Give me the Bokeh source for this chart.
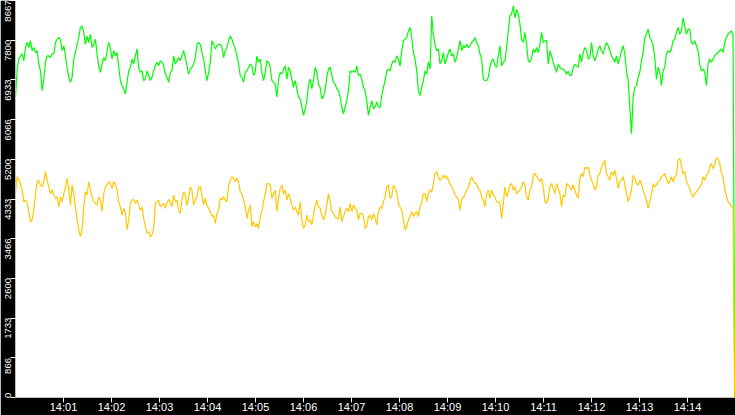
import pandas as pd
from bokeh.plotting import figure
from bokeh.models import Range1d, FixedTicker, DatetimeTickFormatter, LinearAxis
from bokeh.embed import file_html
from bokeh.resources import INLINE

DAY = "2024-01-01 "
START_TIME = "14:00:00"
END_TIME = "14:14:59"
RANGE_END = "14:15:00"

x_tick_labels = ["14:01", "14:02", "14:03", "14:04", "14:05", "14:06", "14:07",
                 "14:08", "14:09", "14:10", "14:11", "14:12", "14:13", "14:14"]
y_tick_values = [0, 866, 1733, 2600, 3466, 4333, 5200, 6066, 6933, 7800, 8667]
y_tick_labels = ["0", "866", "1733", "2600", "3466", "4333", "5200", "6066",
                 "6933", "7800", "8667"]
y_max = 8667

green_a = [
    6560, 7170, 7390, 7460, 7500, 7350, 7640, 7750, 7640, 7790,
    7570, 7640, 7530, 7570, 7280, 7130, 6700, 6950, 7320, 7460,
    7460, 7420, 7500, 7500, 7750, 7820, 7860, 7820, 7570, 7680,
    7460, 7210, 6990, 6880, 6990, 7390, 7530, 7710, 7860, 8080,
    8110, 7970, 7710, 7890, 7750, 7930, 7640, 7710, 7820, 7500,
    7240, 7100, 7280, 7420, 7350, 7570, 7750, 7610, 7390, 7570,
    7460, 7530, 7210, 6920, 6810, 6740, 6630, 6880, 7130, 7210,
    7390, 7280, 7460, 7610, 7210, 7100, 7130, 6920, 6950, 7130,
    7030, 6920, 6990, 7130, 7240, 7320, 7240, 7350, 7320, 7240,
    7060, 6990, 6880, 7100, 7130, 7460, 7280, 7350, 7420, 7350,
    7460, 7570, 7420, 7240, 7060, 7170, 7210, 7280, 7420, 7710,
    7750, 7710, 7530, 7390, 7130, 6920, 7100, 7320, 7790, 7710,
    7610, 7680, 7710, 7710, 7640, 7420, 7570, 7640, 7790, 7890,
    7820, 7710, 7610, 7460, 7280, 7030, 6990, 6880, 7100, 7130,
    7210, 7280,
]
green_b = [
    7240, 7030, 7100, 7460, 7320, 7390, 7100, 6920, 7100, 7350,
    7320, 7210, 6920, 6880, 6840, 6560, 6950, 7100, 7060, 7170,
    7240, 6950, 7210, 7130, 6950, 6770, 6920, 6740, 6560, 6520,
    6340, 6160, 6300, 6480, 6840, 6950, 6740, 6920, 7210, 7100,
    6840, 6770, 6520, 6560, 6700, 6990, 7170, 7210, 7030, 6880,
    6840, 6740, 6700, 6560, 6340, 6190, 6340, 6480, 6700, 7130,
    7100, 7130, 7100, 7240, 7030, 7060, 6950, 6770, 6700, 6480,
    6160, 6340, 6480, 6300, 6340, 6450, 6340, 6340, 6590, 6770,
    6920, 7130, 7170, 7130, 7280, 7350, 7320, 7460, 7390, 7240,
    7570, 7790, 7820, 7860, 8000, 8080, 7860, 7530, 7390, 7130,
    6700, 6590, 6770, 6920, 7130, 7060, 7320, 7170, 8330, 7930,
    7710, 7570, 7610, 7280, 7350, 7530, 7280, 7390, 7530, 7610,
    7460, 7500, 7320, 7420, 7610, 7790, 7570, 7680, 7640, 7710,
    7640, 7680, 7750, 7790, 7860, 7750, 7680, 7500, 7390, 6950,
    6920, 6920, 6990, 7210, 7350, 7390, 7240, 7210, 7460, 7680,
]
green_c = [
    7240, 7320, 7350, 7640, 8000, 8330, 8370, 8550, 8290, 8470,
    8370, 8150, 7820, 7750, 7970, 7710, 7350, 7320, 7420, 7610,
    7530, 7640, 7530, 7710, 7970, 7750, 7790, 7790, 7280, 7570,
    7460, 7320, 7210, 7100, 7280, 7210, 7170, 7170, 7130, 7060,
    7130, 7030, 7030, 7210, 7280, 7240, 7210, 7500, 7320, 7530,
    7640, 7570, 7390, 7420, 7750, 7460, 7350, 7460, 7610, 7680,
    7570, 7500, 7640, 7750, 7680, 7570, 7460, 7390, 7320, 7460,
    7280, 7420, 7570, 7680, 7500, 7130, 6920, 6340, 5760, 6560,
    6770, 6810, 6990, 7100, 7350, 7530, 7860, 7930, 8040, 7860,
    7790, 7680, 7420, 6950, 7210, 7100, 6810, 7130, 7210, 7500,
    7570, 7530, 7610, 7790, 7820, 7970, 8080, 7930, 8000, 8290,
    8110, 7930, 8040, 8040, 7750, 7710, 7790, 7680, 7570, 7280,
    7130, 7170, 7100, 6810, 7280, 7390, 7320, 7390, 7460, 7500,
    7530, 7570, 7610, 7530, 7750, 7860, 7930, 7970, 8000, 7930,
    0,
]

yellow_a = [
    4490, 4820, 4740, 4670, 4530, 4270, 4310, 4270, 4060, 3840,
    3880, 4090, 4450, 4710, 4740, 4640, 4600, 4710, 4930, 4740,
    4600, 4450, 4530, 4420, 4350, 4380, 4160, 4380, 4270, 4450,
    4600, 4780, 4530, 4200, 4640, 4450, 4160, 3880, 3660, 3510,
    3690, 4160, 4490, 4420, 4710, 4530, 4380, 4270, 4240, 4200,
    4380, 4310, 4060, 4450, 4600, 4640, 4710, 4670, 4560, 4710,
    4670, 4530, 4270, 4160, 3980, 4130, 4020, 3660, 3880, 4240,
    4310, 4320, 4240, 4310, 4200, 4090, 4160, 3910, 3730, 3590,
    3620, 3510, 3550, 3690, 4240, 4270, 4310, 4160, 4200, 4240,
    4130, 4240, 4320, 4270, 4160, 4420, 4270, 4310, 4090, 4020,
    4310, 4490, 4420, 4200, 4350, 4600, 4530, 4200, 4310, 4380,
    4600, 4600, 4420, 4200, 4350, 4200, 4130, 4060, 3950, 3980,
    3800, 4020, 4090, 4350, 4310, 4380, 4310, 4270, 4640, 4740,
    4820, 4780, 4710, 4780, 4710, 4490, 4450, 4310, 4160, 3910,
    4090, 4200,
]
yellow_b = [
    3730, 3840, 3730, 3800, 3690, 3950, 4060, 4270, 4450, 4670,
    4670, 4640, 4350, 4450, 4530, 4060, 4350, 4560, 4640, 4450,
    4530, 4310, 4450, 4350, 4200, 4090, 4160, 4060, 3980, 4270,
    3880, 3690, 3770, 3980, 3840, 3880, 3770, 3980, 4200, 4310,
    4160, 4130, 3980, 3880, 3980, 4200, 4450, 4270, 4060, 4020,
    3950, 3910, 3910, 4160, 3840, 3950, 4060, 4130, 4060, 4240,
    4060, 4200, 4130, 4090, 3880, 4020, 4020, 3980, 3690, 3730,
    3950, 3980, 3880, 4020, 3910, 3770, 4060, 4160, 4130, 4270,
    4380, 4600, 4640, 4350, 4380, 4640, 4560, 4490, 4240, 4160,
    4090, 3880, 3660, 3730, 3880, 3950, 4060, 3950, 4020, 4060,
    3950, 4160, 4270, 4450, 4450, 4270, 4450, 4530, 4490, 4670,
    4890, 4930, 4820, 4740, 4780, 4850, 4780, 4850, 4740, 4670,
    4600, 4530, 4420, 4380, 4310, 4090, 4350, 4350, 4450, 4530,
    4600, 4710, 4820, 4740, 4670, 4670, 4560, 4530, 4380, 4310,
    4160, 4450, 4530, 4350, 4530, 4420, 4380, 4270, 4270, 4240,
]
yellow_c = [
    3910, 4240, 4600, 4380, 4490, 4640, 4670, 4530, 4600, 4450,
    4490, 4530, 4600, 4710, 4640, 4380, 4310, 4530, 4600, 4850,
    4890, 4820, 4780, 4710, 4780, 4600, 4270, 4240, 4350, 4600,
    4670, 4560, 4450, 4670, 4560, 4450, 4160, 4420, 4380, 4670,
    4640, 4600, 4530, 4640, 4530, 4420, 4350, 4780, 4890, 4820,
    5030, 5000, 5030, 4850, 4740, 4670, 4530, 4600, 4850, 4890,
    5030, 5110, 5180, 4890, 4820, 4740, 4930, 4850, 4960, 4780,
    4560, 4710, 4740, 4820, 4640, 4450, 4270, 4380, 4530, 4850,
    4780, 4670, 4640, 4740, 4670, 4530, 4420, 4310, 4130, 4270,
    4450, 4670, 4600, 4640, 4710, 4740, 4820, 4850, 4890, 4780,
    4670, 4710, 4820, 4710, 4820, 4850, 5180, 5220, 5070, 4890,
    4930, 4710, 4640, 4560, 4450, 4380, 4450, 4490, 4530, 4600,
    4640, 4820, 4740, 4850, 4890, 5030, 5110, 5000, 5070, 5220,
    5220, 5110, 4890, 4820, 4530, 4420, 4270, 4240, 4160, 4160,
    0,
]

green = green_a + green_b + green_c
yellow = yellow_a + yellow_b + yellow_c

t0 = pd.Timestamp(DAY + START_TIME)
t1 = pd.Timestamp(DAY + END_TIME)
green_t = pd.date_range(t0, t1, periods=len(green))
yellow_t = pd.date_range(t0, t1, periods=len(yellow))
x_ticks_ms = [pd.Timestamp(DAY + s).value / 1e6 for s in x_tick_labels]

W, H = 735, 415
BORDER_LEFT, BORDER_BOTTOM = 15, 16
frame_h = H - BORDER_BOTTOM

p = figure(width=W, height=H, x_axis_type="datetime",
           output_backend="svg", toolbar_location=None,
           x_range=Range1d(t0, pd.Timestamp(DAY + RANGE_END)),
           y_range=Range1d(0, y_max),
           min_border_left=BORDER_LEFT, min_border_right=0, min_border_top=0,
           min_border_bottom=BORDER_BOTTOM,
           border_fill_color="black", background_fill_color="white",
           outline_line_color=None)

p.line(green_t, green, line_color="#00ff00", line_width=1.2)
p.line(yellow_t, yellow, line_color="#ffc800", line_width=1.2)

p.grid.visible = False

def style(ax):
    ax.axis_line_color = None
    ax.major_tick_line_color = "white"
    ax.major_tick_out = 5
    ax.major_tick_in = 0
    ax.minor_tick_line_color = None
    ax.major_label_text_color = "white"

# x axis
xa = p.xaxis[0]
style(xa)
xa.major_label_text_font = "Liberation Sans"
xa.major_label_text_font_size = "11px"
xa.ticker = FixedTicker(ticks=x_ticks_ms)
xa.formatter = DatetimeTickFormatter(
    milliseconds="%H:%M", seconds="%H:%M", minsec="%H:%M", minutes="%H:%M",
    hourmin="%H:%M", hours="%H:%M", days="%H:%M", months="%H:%M", years="%H:%M",
    context=None)
xa.major_label_standoff = -2

# y axis: inner axis draws only the tick marks
ya = p.yaxis[0]
style(ya)
ya.ticker = FixedTicker(ticks=y_tick_values)
ya.major_label_overrides = {v: "" for v in y_tick_values}
ya.major_label_standoff = 0

# outer axis carries the labels, placed just below each tick (kept inside the frame)
label_char_px = 4.1
label_gap_px = 2
label_pos = []
for v, s in zip(y_tick_values, y_tick_labels):
    L = len(s) * label_char_px
    tick_px = frame_h * (1 - v / y_max)
    c = min(max(tick_px + label_gap_px + L / 2, L / 2), frame_h - L / 2)
    label_pos.append(round(y_max * (1 - c / frame_h)))

yl = LinearAxis(ticker=FixedTicker(ticks=label_pos),
                major_label_overrides=dict(zip(label_pos, y_tick_labels)))
style(yl)
yl.major_tick_line_color = None
yl.major_tick_out = 0
yl.major_label_orientation = "vertical"
yl.major_label_text_font = "'Liberation Sans Narrow', 'Liberation Sans'"
yl.major_label_text_font_size = "9.5px"
yl.major_label_standoff = -1
p.add_layout(yl, "left")

html = file_html(p, INLINE)
html = html.replace("<head>", "<head><style>html,body{margin:0;padding:0;overflow:hidden;background:#ffffff}</style>", 1)
open("out.html", "w").write(html)
